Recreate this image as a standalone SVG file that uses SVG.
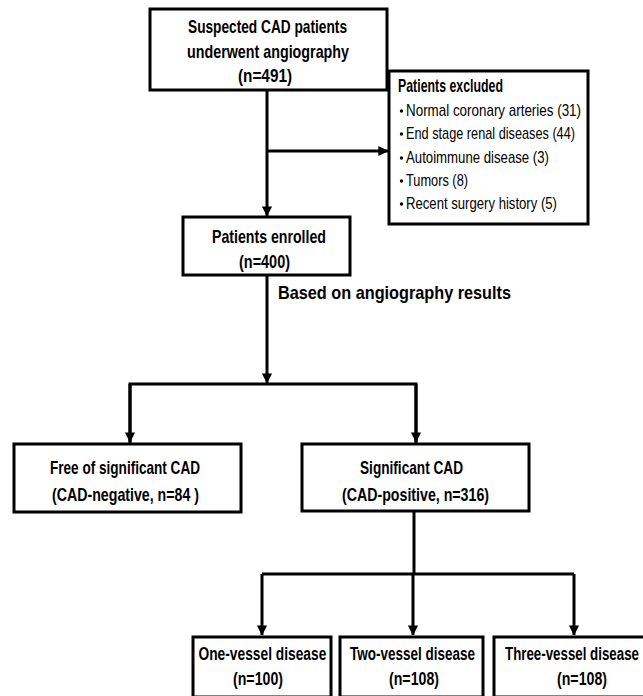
<svg xmlns="http://www.w3.org/2000/svg" width="643" height="696" viewBox="0 0 643 696">
<style>
.box{fill:#fff;stroke:#000;stroke-width:3}
.t{font-family:"Liberation Sans",Arial,sans-serif;font-weight:bold;font-size:18.5px;fill:#000}
.r{font-family:"Liberation Sans",Arial,sans-serif;font-size:17px;fill:#000}
.c{fill:none;stroke:#000;stroke-width:3}
</style>
<defs>
<marker id="ah" markerWidth="4" markerHeight="4" refX="3.2" refY="2" orient="auto" markerUnits="strokeWidth">
<path d="M0,0.3 L3.4,2 L0,3.7 Z" fill="#000"/>
</marker>
</defs>
<rect width="643" height="696" fill="#fff"/>
<g id="connectors">
<path class="c" d="M267,90 V216" marker-end="url(#ah)"/>
<path class="c" d="M267,151 H388" marker-end="url(#ah)"/>
<path class="c" d="M267,275 V383" marker-end="url(#ah)"/>
<path class="c" d="M130,443 V384 H416 V443" />
<path class="c" d="M130,384 V442" marker-end="url(#ah)"/>
<path class="c" d="M416,384 V442" marker-end="url(#ah)"/>
<path class="c" d="M414,511 V574"/>
<path class="c" d="M262,574 H574"/>
<path class="c" d="M262,574 V635" marker-end="url(#ah)"/>
<path class="c" d="M413,574 V635" marker-end="url(#ah)"/>
<path class="c" d="M574,574 V635" marker-end="url(#ah)"/>
<text class="t" x="278" y="299" textLength="233" lengthAdjust="spacingAndGlyphs">Based on angiography results</text>
</g>
<g id="n-suspected">
<rect class="box" x="150" y="9" width="237" height="81"/>
<text class="t" x="188" y="33" textLength="159" lengthAdjust="spacingAndGlyphs">Suspected CAD patients</text>
<text class="t" x="187" y="58" textLength="162" lengthAdjust="spacingAndGlyphs">underwent angiography</text>
<text class="t" x="238" y="82" textLength="54" lengthAdjust="spacingAndGlyphs">(n=491)</text>
</g>
<g id="n-excluded">
<rect class="box" x="389" y="71" width="199" height="153"/>
<text class="t" x="398" y="92" font-size="17" textLength="105" lengthAdjust="spacingAndGlyphs">Patients excluded</text>
<g fill="#000">
<circle cx="401.5" cy="111" r="1.7"/>
<circle cx="401.5" cy="134" r="1.7"/>
<circle cx="401.5" cy="158" r="1.7"/>
<circle cx="401.5" cy="181" r="1.7"/>
<circle cx="401.5" cy="204" r="1.7"/>
</g>
<text class="r" x="406" y="116" textLength="175" lengthAdjust="spacingAndGlyphs">Normal coronary arteries (31)</text>
<text class="r" x="406" y="139" textLength="169" lengthAdjust="spacingAndGlyphs">End stage renal diseases (44)</text>
<text class="r" x="406" y="163" textLength="143" lengthAdjust="spacingAndGlyphs">Autoimmune disease (3)</text>
<text class="r" x="406" y="186" textLength="62" lengthAdjust="spacingAndGlyphs">Tumors (8)</text>
<text class="r" x="406" y="209" textLength="151" lengthAdjust="spacingAndGlyphs">Recent surgery history (5)</text>
</g>
<g id="n-enrolled">
<rect class="box" x="183" y="217" width="167" height="58"/>
<text class="t" x="212" y="243" font-size="19.5" textLength="114" lengthAdjust="spacingAndGlyphs">Patients enrolled</text>
<text class="t" x="239" y="268" font-size="19.5" textLength="51" lengthAdjust="spacingAndGlyphs">(n=400)</text>
</g>
<g id="n-negative">
<rect class="box" x="14" y="444" width="227" height="68"/>
<text class="t" x="50" y="474" textLength="150" lengthAdjust="spacingAndGlyphs">Free of significant CAD</text>
<text class="t" x="52" y="501" textLength="147" lengthAdjust="spacingAndGlyphs">(CAD-negative, n=84 )</text>
</g>
<g id="n-positive">
<rect class="box" x="302" y="444" width="227" height="67"/>
<text class="t" x="360" y="474" textLength="103" lengthAdjust="spacingAndGlyphs">Significant CAD</text>
<text class="t" x="342" y="501" textLength="147" lengthAdjust="spacingAndGlyphs">(CAD-positive, n=316)</text>
</g>
<g id="n-one">
<rect class="box" x="193" y="637" width="138" height="60"/>
<text class="t" transform="translate(198.5,660) scale(0.745,1)">One-vessel disease</text>
<text class="t" transform="translate(233,685) scale(0.766,1)">(n=100)</text>
</g>
<g id="n-two">
<rect class="box" x="340" y="637" width="143" height="60"/>
<text class="t" transform="translate(350,660) scale(0.73,1)">Two-vessel disease</text>
<text class="t" transform="translate(389,685) scale(0.766,1)">(n=108)</text>
</g>
<g id="n-three">
<rect class="box" x="494" y="637" width="160" height="60"/>
<text class="t" transform="translate(505,660) scale(0.72,1)">Three-vessel disease</text>
<text class="t" transform="translate(557,685) scale(0.766,1)">(n=108)</text>
</g>
</svg>
